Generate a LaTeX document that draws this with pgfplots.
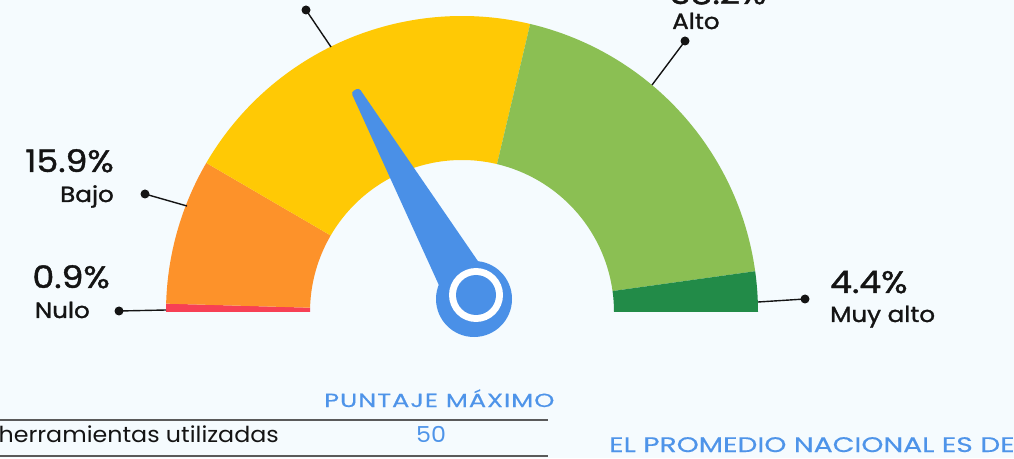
\documentclass[border=0pt]{standalone}
\usepackage{fontspec}
\setmainfont{Poppins}
\newfontfamily\labfont{Poppins}[FakeBold=1.3, FakeStretch=1.12]
\newfontfamily\capfontA{Poppins}[FakeStretch=1.35, LetterSpace=5, FakeBold=0.4]
\newfontfamily\capfontB{Poppins}[FakeStretch=1.34, FakeBold=0.4]
\newfontfamily\rowfont{Poppins}[FakeStretch=1.08]
\usepackage{pgfplots}
\pgfplotsset{compat=1.18}
\definecolor{bg}{RGB}{245,251,254}
\definecolor{cNulo}{RGB}{247,64,85}
\definecolor{cBajo}{RGB}{253,146,42}
\definecolor{cMedio}{RGB}{255,201,5}
\definecolor{cAlto}{RGB}{139,191,83}
\definecolor{cMuy}{RGB}{34,139,72}
\definecolor{needle}{RGB}{74,144,231}
\definecolor{tblue}{RGB}{78,148,233}
\definecolor{ink}{RGB}{20,20,20}
\definecolor{rule}{RGB}{90,90,90}
% shares of the five levels (%)
\def\vNulo{0.9}\def\vBajo{15.9}\def\vMedio{40.6}\def\vAlto{38.2}\def\vMuy{4.4}
\pgfmathsetmacro\aA{180}
\pgfmathsetmacro\aB{\aA-1.8*\vNulo}
\pgfmathsetmacro\aC{\aB-1.8*\vBajo}
\pgfmathsetmacro\aD{\aC-1.8*\vMedio}
\pgfmathsetmacro\aE{\aD-1.8*\vAlto}
\pgfmathsetmacro\aF{\aE-1.8*\vMuy}
\newcommand\gaugeseg[3]{%
  \fill[#1] ([shift={(#2:296pt)}]axis cs:462,146) arc[start angle=#2, end angle=#3, radius=296pt]
    -- ([shift={(#3:152pt)}]axis cs:462,146) arc[start angle=#3, end angle=#2, radius=152pt] -- cycle;}
\newcommand\leader[4]{%
  \draw[ink, line width=1.4pt] (axis cs:#1,#2) -- (axis cs:#3,#4);
  \fill[ink] (axis cs:#1,#2) circle[radius=4.5pt];}
\begin{document}
\begin{tikzpicture}
\useasboundingbox (0,0) rectangle (1014pt,458pt);
\clip (0,0) rectangle (1014pt,458pt);
\fill[bg] (0,0) rectangle (1014pt,458pt);
\begin{axis}[at={(0,0)}, anchor=south west, x=1pt, y=1pt,
  xmin=0, xmax=1014, ymin=0, ymax=458, hide axis, clip=false]
\gaugeseg{cNulo}{\aA}{\aB}
\gaugeseg{cBajo}{\aB}{\aC}
\gaugeseg{cMedio}{\aC}{\aD}
\gaugeseg{cAlto}{\aD}{\aE}
\gaugeseg{cMuy}{\aE}{\aF}
% needle
\fill[needle, rounded corners=3pt] (axis cs:494,173.5) -- (axis cs:358.9,370.2) -- (axis cs:351.1,365.8) -- (axis cs:450,148.5) -- cycle;
\fill[needle] (axis cs:474,159) circle[radius=38pt];
\fill[white] (axis cs:476,163) circle[radius=27pt];
\fill[needle] (axis cs:476,163) circle[radius=20pt];
% leaders
\leader{306}{448}{331}{411}
\leader{685}{417}{652}{373}
\leader{145}{264}{187}{252}
\leader{119}{147}{166}{148}
\leader{805}{159}{758}{156}
% labels
\begin{scope}[every node/.style={inner sep=0pt, text=ink}]
\node[anchor=base east, font=\labfont\fontsize{31}{36}\selectfont] at (axis cs:114,286) {15.9\%};
\node[anchor=base east, font=\labfont\fontsize{22}{26}\selectfont] at (axis cs:114,256) {Bajo};
\node[anchor=base east, font=\labfont\fontsize{31}{36}\selectfont] at (axis cs:110,170) {0.9\%};
\node[anchor=base east, font=\labfont\fontsize{22}{26}\selectfont] at (axis cs:90,140) {Nulo};
\node[anchor=base west, font=\labfont\fontsize{31}{36}\selectfont] at (axis cs:830,165) {4.4\%};
\node[anchor=base west, font=\labfont\fontsize{22}{26}\selectfont] at (axis cs:830,136) {Muy alto};
\node[anchor=base west, font=\labfont\fontsize{22}{26}\selectfont] at (axis cs:672,429) {Alto};
\node[anchor=base west, font=\labfont\fontsize{31}{36}\selectfont] at (axis cs:670,454) {38.2\%};
\end{scope}
% table
\node[inner sep=0pt, anchor=base west, text=tblue, font=\capfontA\fontsize{19}{22}\selectfont] at (axis cs:324,51) {PUNTAJE MÁXIMO};
\draw[rule, line width=2pt] (axis cs:0,38) -- (axis cs:548,38);
\node[inner sep=0pt, anchor=base east, text=ink, font=\rowfont\fontsize{22}{26}\selectfont] at (axis cs:279,16) {herramientas utilizadas};
\node[inner sep=0pt, anchor=base west, text=tblue, font=\rowfont\fontsize{22}{26}\selectfont] at (axis cs:416,16) {50};
\draw[rule, line width=2pt] (axis cs:0,2) -- (axis cs:548,2);
\node[inner sep=0pt, anchor=base west, text=tblue, font=\capfontB\fontsize{21}{25}\selectfont] at (axis cs:609,6) {EL PROMEDIO NACIONAL ES DE};
\end{axis}
\end{tikzpicture}
\end{document}
